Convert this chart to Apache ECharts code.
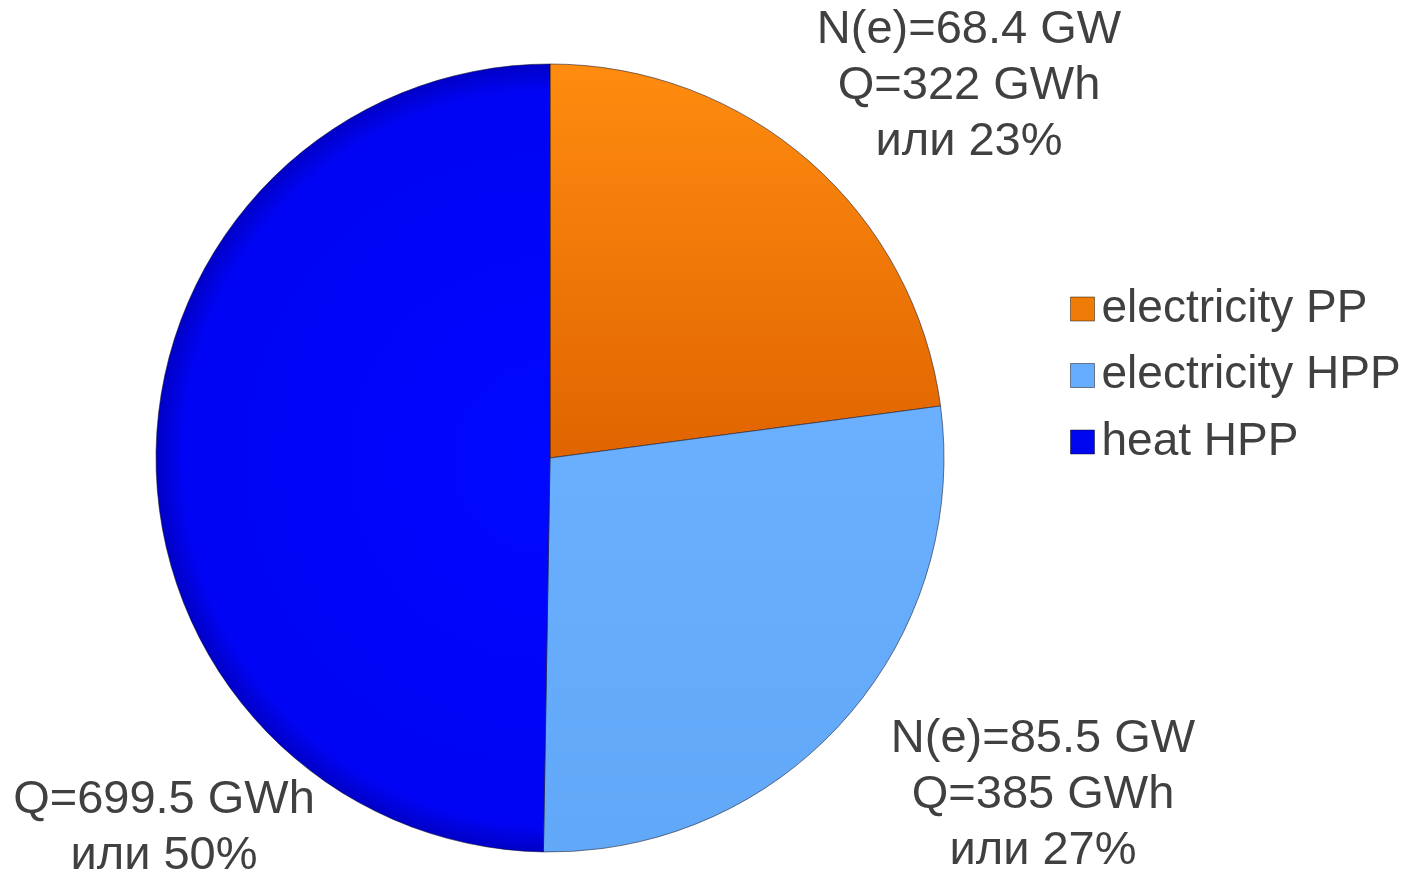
<!DOCTYPE html>
<html>
<head>
<meta charset="utf-8">
<script src="https://cdn.jsdelivr.net/npm/echarts@6/dist/echarts.min.js"></script>
<style>
html,body{margin:0;padding:0;background:#fff;}
#chart{width:1415px;height:876px;}
</style>
</head>
<body>
<div id="chart"></div>
<script>
const categories = ['electricity PP', 'electricity HPP', 'heat HPP'];
const energyGWh = [322, 385, 699.5];
const powerGW = [68.4, 85.5, null];

const labelCenters = [[969, 86], [1043, 795], [164, 828]];
const FONT = "'Liberation Sans', Arial, sans-serif";

const sliceColors = [
  {type:'linear', x:0, y:0, x2:0, y2:1, colorStops:[{offset:0,color:'#FF8C10'},{offset:1,color:'#E06400'}]},
  {type:'linear', x:0, y:0, x2:0, y2:1, colorStops:[{offset:0,color:'#6AB0FF'},{offset:1,color:'#62A8F8'}]},
  {type:'radial', x:1, y:0.5, r:1, colorStops:[{offset:0,color:'#0008FF'},{offset:0.93,color:'#0004F4'},{offset:1,color:'#0000C4'}]}
];
const legendColors = ['#F07C08', '#66ADFF', '#0006F0'];

const chart = echarts.init(document.getElementById('chart'));
chart.setOption({
  animation: false,
  backgroundColor: '#ffffff',
  legend: {
    orient: 'vertical',
    left: 1065,
    top: 281,
    icon: 'rect',
    itemWidth: 24,
    itemHeight: 24,
    itemGap: 20.5,
    data: categories.map((c, i) => ({name: c, itemStyle: {color: legendColors[i], borderColor: 'rgba(0,0,0,0.45)', borderWidth: 1}})),
    textStyle: {fontFamily: FONT, fontSize: 46, color: '#404040', lineHeight: 46, padding: [0, 0, 0, 2]}
  },
  series: [{
    type: 'pie',
    center: [550, 458],
    radius: 394,
    startAngle: 90,
    clockwise: true,
    percentPrecision: 0,
    avoidLabelOverlap: false,
    itemStyle: {borderColor: 'rgba(20,20,40,0.55)', borderWidth: 1},
    labelLine: {show: false},
    label: {
      show: true,
      position: 'outside',
      fontFamily: FONT,
      fontSize: 47,
      lineHeight: 56,
      color: '#404040',
      align: 'center',
      formatter: function (p) {
        const lines = [];
        const n = powerGW[p.dataIndex];
        if (n !== null) lines.push('N(e)=' + n + ' GW');
        lines.push('Q=' + p.value + ' GWh');
        lines.push('или ' + p.percent + '%');
        return lines.join('\n');
      }
    },
    labelLayout: function (params) {
      const c = labelCenters[params.dataIndex];
      return {x: c[0], y: c[1], align: 'center', verticalAlign: 'middle'};
    },
    data: categories.map((c, i) => ({name: c, value: energyGWh[i], itemStyle: {color: sliceColors[i]}}))
  }]
});
</script>
</body>
</html>
